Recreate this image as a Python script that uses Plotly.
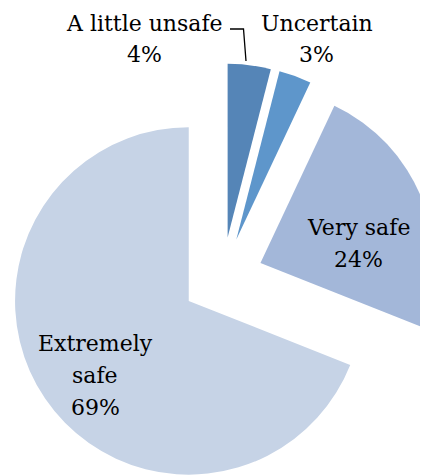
import plotly.graph_objects as go

labels = ["A little unsafe", "Uncertain", "Very safe", "Extremely safe"]
values = [4, 3, 24, 69]
label_lines = [["A little unsafe"], ["Uncertain"], ["Very safe"], ["Extremely", "safe"]]
colors = ["#5585B7", "#5E96CB", "#A3B7D9", "#C6D3E6"]

OFF = 8  # page body margin
W, H = 429, 540
PULL = 0.235

fig = go.Figure(go.Pie(
    labels=labels, values=values, sort=False, direction="clockwise", rotation=0,
    pull=[PULL] * len(values), marker=dict(colors=colors, line=dict(width=0)),
    textinfo="none", hoverinfo="label+percent", showlegend=False,
    domain=dict(x=[0, 1], y=[0, 1]),
))

total = sum(values)
# screen-pixel centre x and per-line visual centre y for each label block
label_x = [144.5, 316.5, 358, 95]
label_y = [[23, 54.5], [23, 54.5], [227, 259], [343, 375, 407]]


def paper(px, py):
    return (px - OFF) / W, 1 - (py - OFF) / H


for lines, v, px, ys in zip(label_lines, values, label_x, label_y):
    texts = lines + [f"{round(100 * v / total)}%"]
    for t, py in zip(texts, ys):
        x, y = paper(px, py)
        fig.add_annotation(
            x=x, y=y, xref="paper", yref="paper", text=t, showarrow=False,
            xanchor="center", yanchor="middle", align="center",
            font=dict(family="DejaVu Serif", size=22, color="#000000"),
        )

pts = [(230, 29), (243.5, 29), (246, 61)]
path = "M " + " L ".join("{},{}".format(*paper(x, y)) for x, y in pts)
fig.add_shape(type="path", path=path, xref="paper", yref="paper",
              line=dict(color="#000000", width=1.3))

fig.update_layout(width=W, height=H, margin=dict(l=0, r=0, t=0, b=0),
                  paper_bgcolor="white", plot_bgcolor="white")
fig.write_html("out.html")
